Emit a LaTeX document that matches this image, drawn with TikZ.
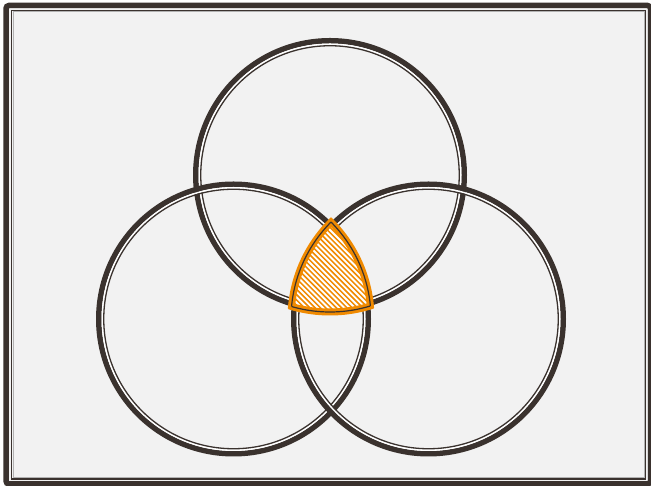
\documentclass[tikz,border=0pt]{standalone}
\definecolor{dk}{HTML}{3A322E}
\definecolor{bg}{HTML}{F2F2F2}
\definecolor{org}{HTML}{F08A00}
\newcommand\vennring[2]{%
  \draw[dk,line width=5.5] (#1) circle[radius={#2-2.75}];
  \draw[white,line width=1.6] (#1) circle[radius={#2-6.3}];
  \draw[dk,line width=1.3] (#1) circle[radius={#2-7.75}];}
\newcommand\regionedge[7]{% circle X (#1,#2), others (#3,#4), (#5,#6), extra #7
  \begin{scope}
    \clip (#3) circle[radius={#4+#7}];
    \clip (#5) circle[radius={#6+#7}];
    \draw[edgestyle] (#1) circle[radius=#2];
  \end{scope}}
\begin{document}
\begin{tikzpicture}[x=1pt,y=1pt]
\useasboundingbox (0,0) rectangle (651,486);
\fill[white] (0,0) rectangle (651,486);
% frame
\fill[bg] (6,2) rectangle (650.5,480.5);
\draw[dk,line width=5.5,rounded corners=3] (6,2) rectangle (650.5,480.5);
\draw[dk,line width=1.3] (11.5,7) rectangle (645.5,475.5);
\draw[gray!60,line width=0.6] (12.8,8.3) rectangle (644.2,474.2);
% centres
\coordinate (A) at (330,311);
\coordinate (B) at (233.5,167);
\coordinate (C) at (428.5,167);
% rings
\vennring{A}{137}
\vennring{B}{137.5}
\vennring{C}{137.5}
% central region
\begin{scope}
  \clip (A) circle[radius=137];
  \clip (B) circle[radius=137.5];
  \clip (C) circle[radius=137.5];
  \fill[org] (280,160) rectangle (380,280);
  \foreach \i in {0,...,40}
    \draw[white,line width=1.9] ({200+5.3*\i},280) -- ({320+5.3*\i},160);
\end{scope}
\tikzset{edgestyle/.style={org,line width=7}}
\regionedge{A}{137}{B}{137.5}{C}{137.5}{3}
\regionedge{B}{137.5}{A}{137}{C}{137.5}{3}
\regionedge{C}{137.5}{A}{137}{B}{137.5}{3}
\tikzset{edgestyle/.style={dk,line width=1.2}}
\regionedge{A}{137}{B}{137.5}{C}{137.5}{0}
\regionedge{B}{137.5}{A}{137}{C}{137.5}{0}
\regionedge{C}{137.5}{A}{137}{B}{137.5}{0}
\end{tikzpicture}
\end{document}
